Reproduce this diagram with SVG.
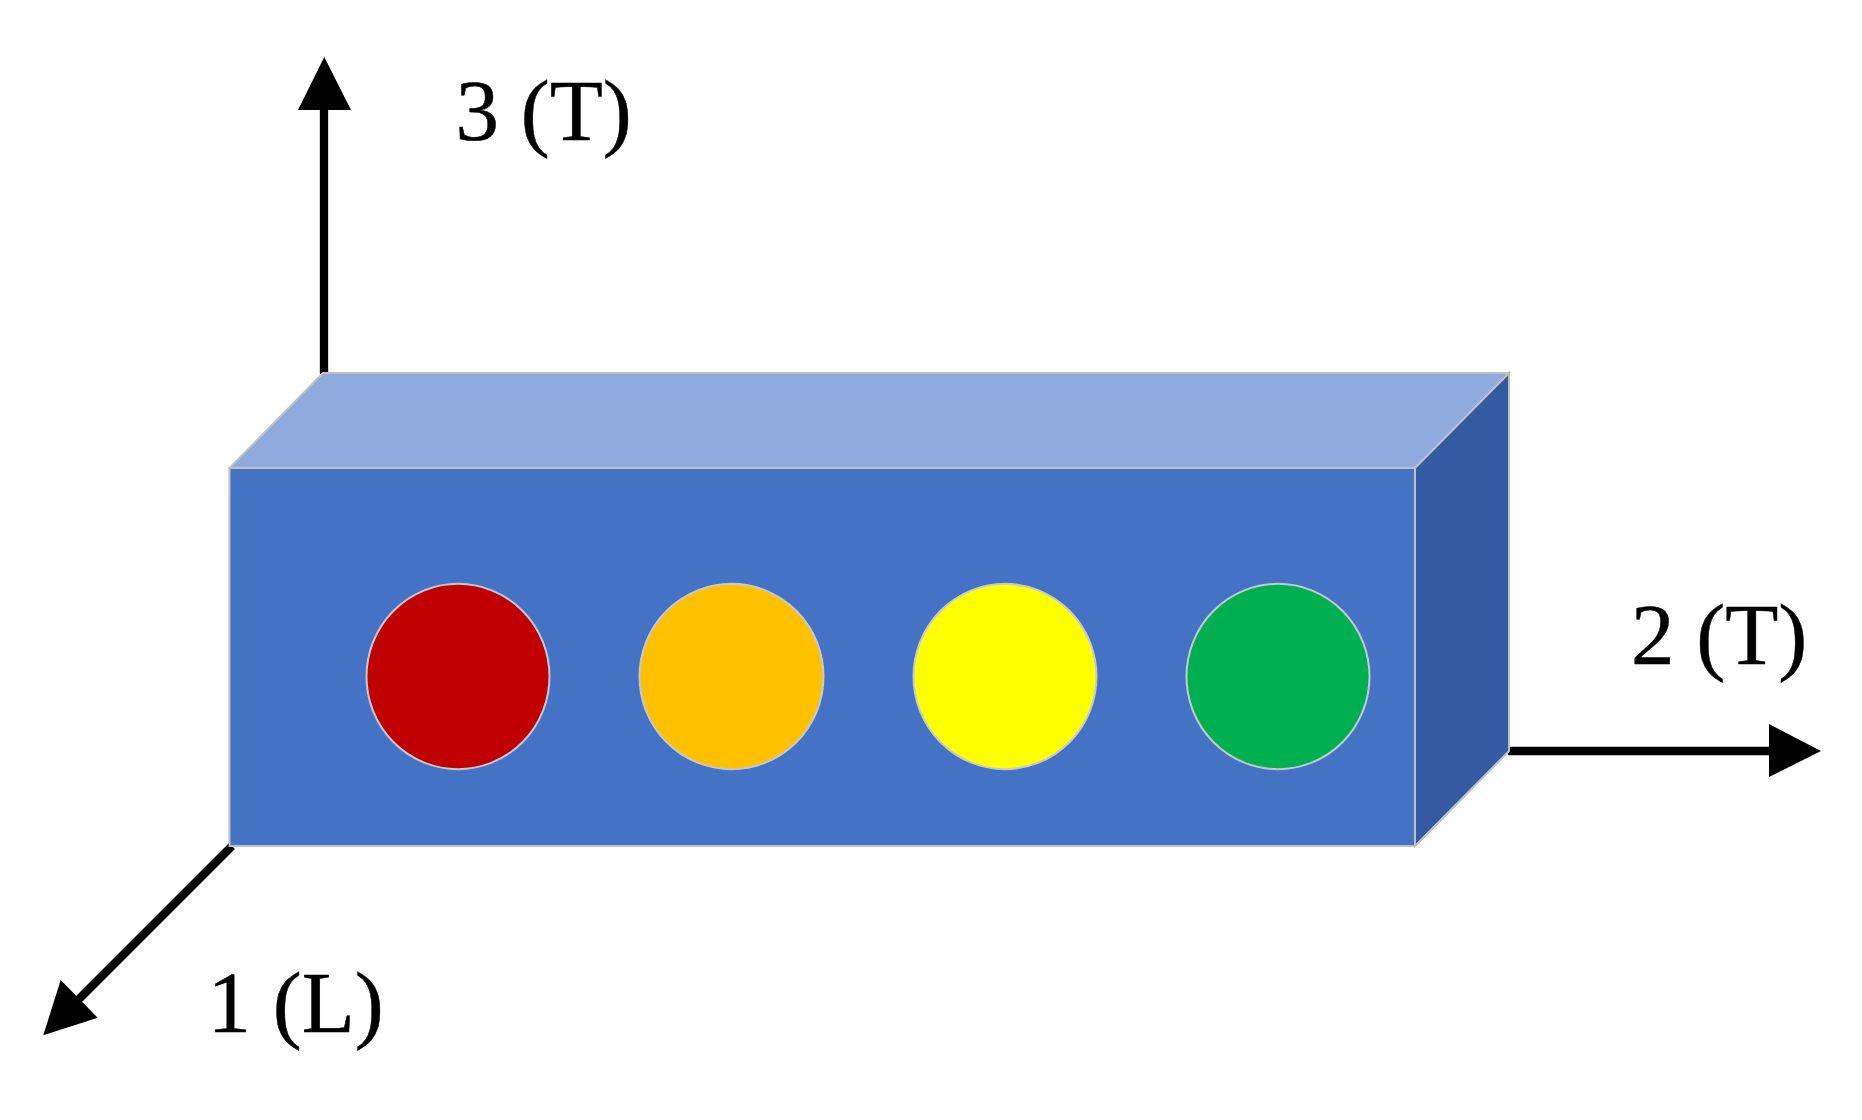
<svg xmlns="http://www.w3.org/2000/svg" width="1862" height="1120" viewBox="0 0 1862 1120">
<style>
.face{stroke:#c0c0c0;stroke-width:2;stroke-linejoin:miter}
.dot{stroke:#c4c8d0;stroke-width:2}
.axis{stroke:#000;stroke-width:8.3;fill:none}
.head{fill:#000;stroke:none}
text{font-family:"Liberation Serif","Times New Roman",serif;font-size:87px;fill:#000;stroke:#000;stroke-width:0.5;text-rendering:geometricPrecision}
</style>
<rect width="1862" height="1120" fill="#fff"/>
<g id="connectors">
<line class="axis" x1="324" y1="374" x2="324" y2="105"/>
<polygon class="head" points="324.3,57 351,110 298,110"/>
<line class="axis" x1="1508" y1="751" x2="1775" y2="751"/>
<polygon class="head" points="1821,751 1769,724 1769,777"/>
<line class="axis" x1="232" y1="846" x2="72" y2="1006"/>
<polygon class="head" points="43.3,1035.3 60.7,980 97.7,1017.7"/>
</g>
<g id="box">
<polygon id="top-face" class="face" fill="#8faadc" points="229.5,468 323,373 1509,373 1415,468"/>
<polygon id="side-face" class="face" fill="#335aa3" points="1415,468 1509,373 1509,751 1415,846"/>
<rect id="front-face" class="face" fill="#4472c4" x="229.5" y="468" width="1185.5" height="378"/>
</g>
<g id="dot-red"><ellipse class="dot" fill="#c00000" cx="458" cy="676.5" rx="91.5" ry="92.7"/></g>
<g id="dot-orange"><ellipse class="dot" fill="#ffc000" cx="731.5" cy="676.5" rx="92" ry="92.7"/></g>
<g id="dot-yellow"><ellipse class="dot" fill="#ffff00" cx="1005" cy="676.5" rx="91.5" ry="92.7"/></g>
<g id="dot-green"><ellipse class="dot" fill="#00b050" cx="1278" cy="676.5" rx="91.5" ry="92.7"/></g>
<g id="label-3"><text x="455.5" y="139.5">3 (T)</text></g>
<g id="label-2"><text x="1631" y="664">2 (T)</text></g>
<g id="label-1"><text x="207.5" y="1031.5">1 (L)</text></g>
</svg>
